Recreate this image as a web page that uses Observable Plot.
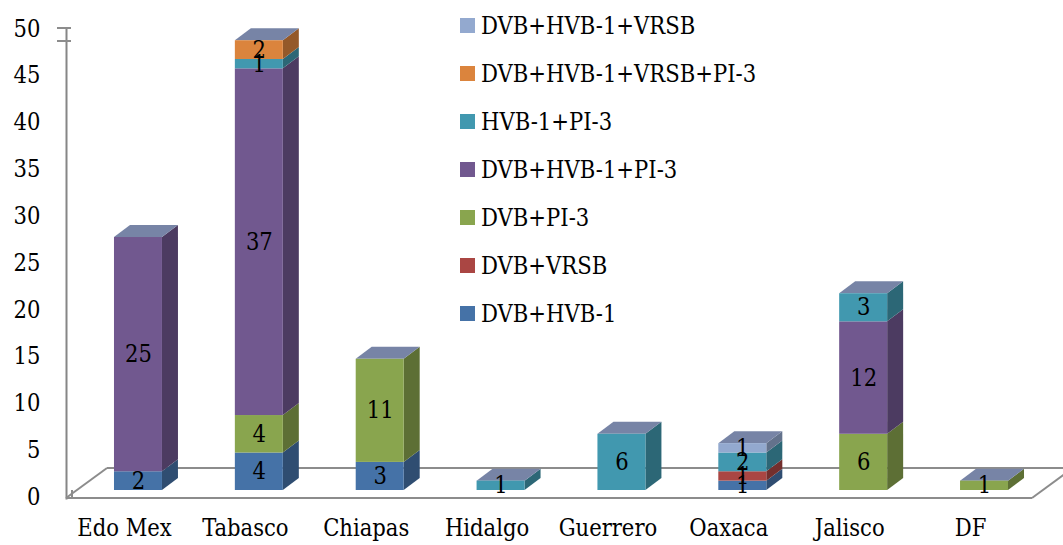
<!DOCTYPE html>
<html><head><meta charset="utf-8">
<script src="https://cdn.jsdelivr.net/npm/d3@7"></script>
<script src="https://cdn.jsdelivr.net/npm/@observablehq/plot@0.6"></script>
<style>
body{margin:0;background:#fff;}
#wrap{position:relative;width:1063px;height:545px;overflow:hidden;font-family:"DejaVu Serif Condensed","DejaVu Serif",serif;font-stretch:condensed;}
#wrap svg text{font-stretch:condensed;}
#legend{position:absolute;left:460px;top:0;}
.item{position:absolute;left:0;height:30px;display:flex;align-items:center;white-space:nowrap;font-size:23.5px;color:#000;}
.sw{width:15px;height:15px;margin-right:6px;flex:none;}
</style></head><body><div id="wrap"></div>
<script>
const categories = ["Edo Mex","Tabasco","Chiapas","Hidalgo","Guerrero","Oaxaca","Jalisco","DF"];
// stacking order, bottom to top
const series = ["DVB+HVB-1","DVB+VRSB","DVB+PI-3","DVB+HVB-1+PI-3","HVB-1+PI-3","DVB+HVB-1+VRSB+PI-3","DVB+HVB-1+VRSB"];
const colors = ["#4572A7","#AA4643","#89A54E","#71588F","#4198AF","#DB843D","#93A9CF"];
const dvbHvb1        = [2, 4, 3, 0, 0, 1, 0, 0];
const dvbVrsb        = [0, 0, 0, 0, 0, 1, 0, 0];
const dvbPi3         = [0, 4, 11, 0, 0, 0, 6, 1];
const dvbHvb1Pi3     = [25, 37, 0, 0, 0, 0, 12, 0];
const hvb1Pi3        = [0, 1, 0, 1, 6, 2, 3, 0];
const dvbHvb1VrsbPi3 = [0, 2, 0, 0, 0, 0, 0, 0];
const dvbHvb1Vrsb    = [0, 0, 0, 0, 0, 1, 0, 0];
const yTicks = [0, 5, 10, 15, 20, 25, 30, 35, 40, 45, 50];

const seriesValues = [dvbHvb1, dvbVrsb, dvbPi3, dvbHvb1Pi3, hvb1Pi3, dvbHvb1VrsbPi3, dvbHvb1Vrsb];
const rows = [];
series.forEach((s, si) => categories.forEach((c, ci) => {
  const v = seriesValues[si][ci];
  if (v > 0) rows.push({category: c, series: s, value: v});
}));

const FONT = '"DejaVu Serif Condensed", "DejaVu Serif", serif';
const FS = 23.5;
const chart = Plot.plot({
  width: 1063, height: 545,
  marginLeft: 66, marginRight: 7, marginTop: 21.5, marginBottom: 55,
  style: {fontFamily: FONT, fontSize: FS + "px", color: "#000", background: "transparent"},
  x: {domain: categories, paddingInner: 0.603, paddingOuter: 0.397, round: false, label: null},
  y: {domain: [0, 50], label: null},
  color: {domain: series, range: colors},
  marks: [
    Plot.frame({anchor: "left", stroke: "#868686", strokeWidth: 2, insetTop: 6.5, insetBottom: -8}),
    Plot.axisY({ticks: yTicks, tickSize: 0, tickPadding: 26, dy: 7, label: null, fontSize: FS}),
    Plot.axisX({tickSize: 0, tickPadding: 29, dx: -14, label: null, fontSize: FS}),
    Plot.barY(rows, {x: "category", y: "value", z: "series", fill: "series"}),
    Plot.text(rows, Plot.stackY({x: "category", y: "value", z: "series", text: "value", fontSize: FS, fill: "#000"}))
  ]
});

// 3D decorations derived from the rendered scales and bars
const svg = chart;
const ns = "http://www.w3.org/2000/svg";
const ys = chart.scale("y"), xs = chart.scale("x");
const y0 = ys.apply(0);
const xL = xs.range[0], xR = xs.range[1];
const floorG = document.createElementNS(ns, "g");
const gray = "#8c8c8c";
const line = (g, x1, y1, x2, y2) => {
  const l = document.createElementNS(ns, "line");
  l.setAttribute("x1", x1); l.setAttribute("y1", y1); l.setAttribute("x2", x2); l.setAttribute("y2", y2);
  l.setAttribute("stroke", gray); l.setAttribute("stroke-width", 2);
  g.appendChild(l);
};
const fy = y0 + 8, by = y0 - 22, fdx = 41;
line(floorG, xL, fy, xR - 24, fy);
line(floorG, xL + fdx, by, xR + 30, by);
line(floorG, xL, fy, xL + fdx, by);
line(floorG, xR - 24, fy, xR - 24 + fdx, by);
const topY = ys.apply(50) + 6.5;
line(floorG, xL - 9, topY, xL + 5, topY);
line(floorG, xL - 9, topY + 13, xL + 5, topY + 13);
line(floorG, xL + 6, y0, xL + 6, fy);

const barG = svg.querySelector('g[aria-label="bar"]');
barG.parentNode.insertBefore(floorG, barG);
const g3d = document.createElementNS(ns, "g");
barG.parentNode.insertBefore(g3d, barG);
const dx = 16, dy = -12;
const rects = Array.from(barG.querySelectorAll("rect")).map(r => ({
  x: +r.getAttribute("x"), y: +r.getAttribute("y"),
  w: +r.getAttribute("width"), h: +r.getAttribute("height"),
  fill: r.getAttribute("fill")
}));
const topByX = d3.rollup(rects, v => d3.min(v, d => d.y), d => d.x);
const poly = (pts, fill) => {
  const p = document.createElementNS(ns, "polygon");
  p.setAttribute("points", pts.map(q => q.join(",")).join(" "));
  p.setAttribute("fill", fill);
  g3d.appendChild(p);
};
rects.forEach(r => {
  const xr = r.x + r.w, yt = r.y, yb = r.y + r.h;
  poly([[xr, yb], [xr + dx, yb + dy], [xr + dx, yt + dy], [xr, yt]], d3.color(r.fill).darker(1.1).formatHex());
  if (topByX.get(r.x) === r.y) {
    poly([[r.x, yt], [r.x + dx, yt + dy], [xr + dx, yt + dy], [xr, yt]], "#7784a6");
  }
});

const wrap = document.getElementById("wrap");
wrap.appendChild(chart);
const legend = document.createElement("div");
legend.id = "legend";
series.slice().reverse().forEach((s, i) => {
  const item = document.createElement("div");
  item.className = "item";
  item.style.top = (25.5 + 48 * i - 15) + "px";
  const sw = document.createElement("span");
  sw.className = "sw";
  sw.style.background = colors[series.indexOf(s)];
  const t = document.createElement("span");
  t.textContent = s;
  item.appendChild(sw); item.appendChild(t);
  legend.appendChild(item);
});
wrap.appendChild(legend);
</script></body></html>
